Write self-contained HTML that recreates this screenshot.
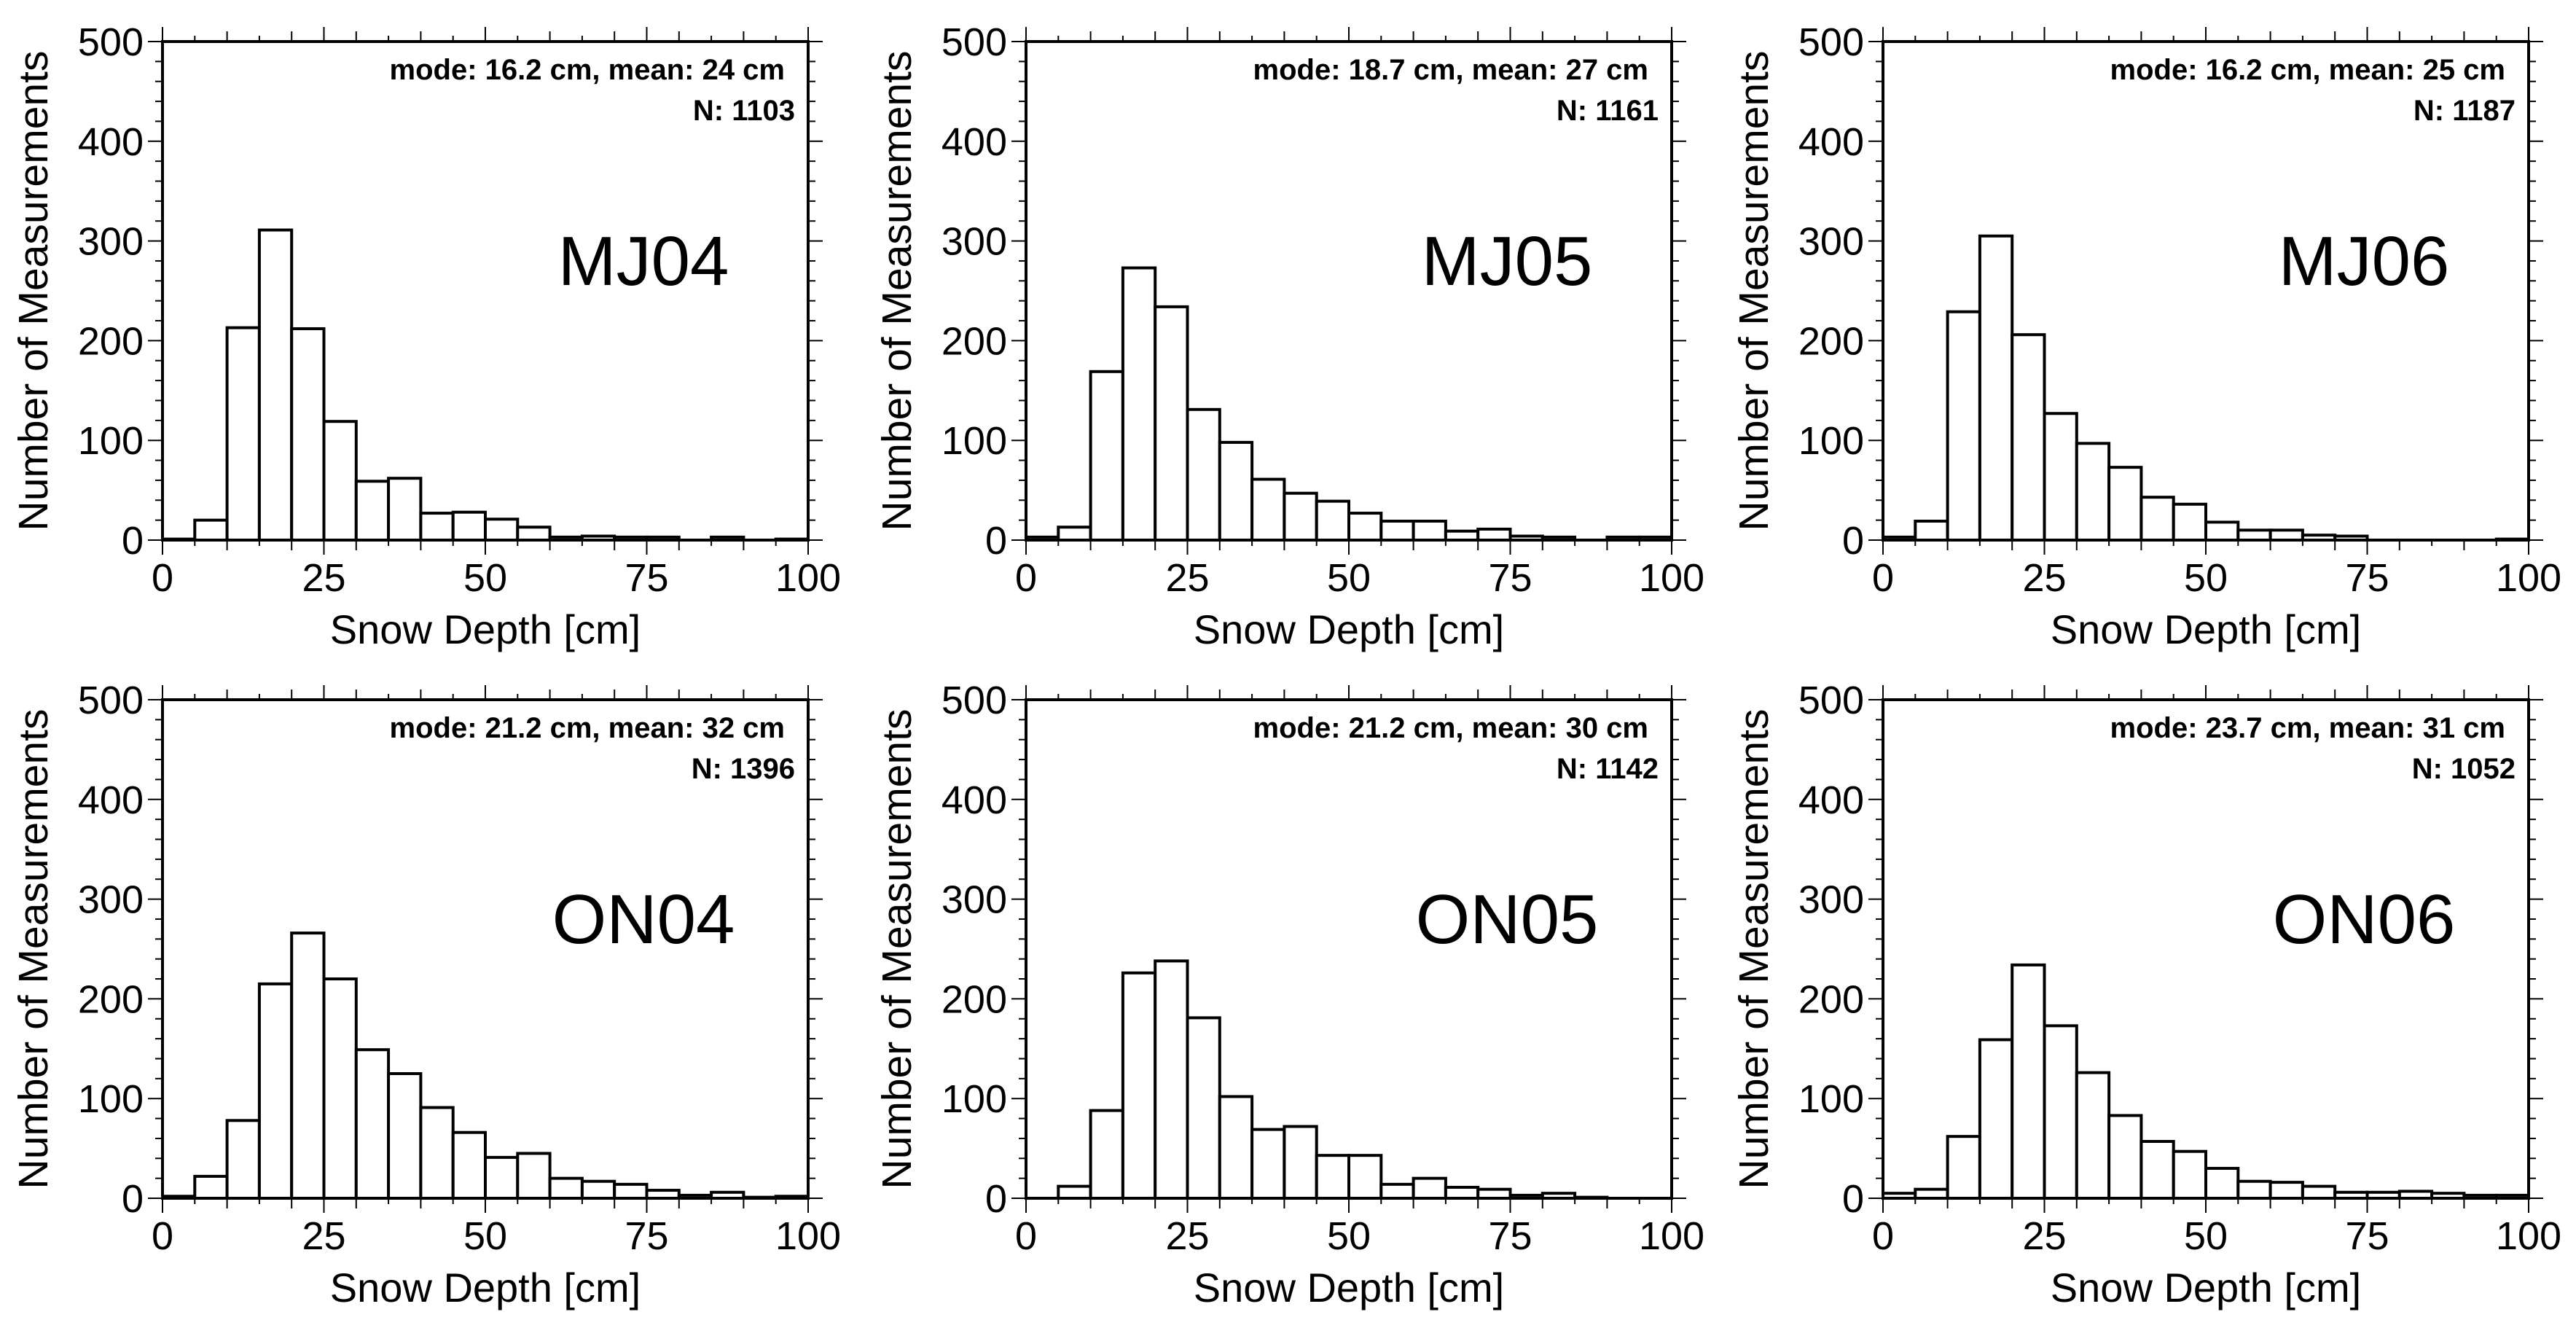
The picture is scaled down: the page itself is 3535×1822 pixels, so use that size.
<!DOCTYPE html>
<html><head><meta charset="utf-8"><style>
html,body{margin:0;padding:0;background:#fff;}
svg{display:block;font-family:"Liberation Sans",Arial,sans-serif;}
</style></head><body>
<svg id="fig" width="3535" height="1822" viewBox="0 0 3535 1822" xmlns="http://www.w3.org/2000/svg"></svg>
<script>
const binEdges = [0,5,10,15,20,25,30,35,40,45,50,55,60,65,70,75,80,85,90,95,100];
const xTicks = [0,25,50,75,100];
const yTicks = [0,100,200,300,400,500];
const panelNames = ["MJ04","MJ05","MJ06","ON04","ON05","ON06"];
const modes = ["16.2","18.7","16.2","21.2","21.2","23.7"];
const means = ["24","27","25","32","30","31"];
const counts = ["1103","1161","1187","1396","1142","1052"];
const countsMJ04 = [1,20,213,311,212,119,59,62,27,28,21,13,3,4,3,3,0,3,0,1];
const countsMJ05 = [3,13,169,273,234,131,98,61,47,39,27,19,19,9,11,4,3,0,3,3];
const countsMJ06 = [3,19,229,305,206,127,97,73,43,36,18,10,10,5,4,0,0,0,0,1];
const countsON04 = [2,22,78,215,266,220,149,125,91,66,41,45,20,17,14,8,3,6,1,2];
const countsON05 = [0,12,88,226,238,181,102,69,72,43,43,14,20,11,9,3,5,1,0,0];
const countsON06 = [5,9,62,159,234,173,126,83,57,47,30,17,16,12,6,6,7,5,3,3];
const series = [countsMJ04,countsMJ05,countsMJ06,countsON04,countsON05,countsON06];

const NS = "http://www.w3.org/2000/svg";
const svg = document.getElementById('fig');
const lefts = [223,1408,2584], tops = [57,960];
const PW = 886, PH = 684;
function mk(tag, attrs, parent){ const e=document.createElementNS(NS,tag); for(const k in attrs) e.setAttribute(k,attrs[k]); parent.appendChild(e); return e; }

series.forEach((vals, i) => {
  const L = lefts[i%3], T = tops[Math.floor(i/3)];
  const xs = v => L + v/100*PW;
  const ys = v => T + PH - v/500*PH;
  const g = mk('g', {}, svg);
  
  
  for (let b=0; b<vals.length; b++) {
    const x0 = xs(binEdges[b]), x1 = xs(binEdges[b+1]), y = ys(vals[b]);
    const r = mk('rect', {x:x0, y:y, width:x1-x0, height:ys(0)-y, fill:'#fff', stroke:'#000', 'stroke-width':4}, g);
    
    
  }
  const fr = mk('rect', {x:L, y:T, width:PW, height:PH, fill:'none', stroke:'#000', 'stroke-width':4}, g);
  
  
  for (let v=0; v<=500; v+=20) {
    const major = v%100===0, len = major?20:10, y = ys(v);
    mk('line', {x1:L-len, y1:y, x2:L, y2:y, stroke:'#000', 'stroke-width':2}, g);
    mk('line', {x1:L+PW, y1:y, x2:L+PW+len, y2:y, stroke:'#000', 'stroke-width':2}, g);
  }
  yTicks.forEach(v => {
    const t = mk('text', {x:L-26, y:ys(v)+19, 'font-size':54, 'text-anchor':'end'}, g);
    t.textContent = v;
    
    
  });
  for (let v=0; v<=100; v+=5) {
    const major = v%25===0, len = major?20:(v%10===0?14:8), x = xs(v);
    mk('line', {x1:x, y1:T+PH, x2:x, y2:T+PH+len, stroke:'#000', 'stroke-width':2}, g);
    mk('line', {x1:x, y1:T-len, x2:x, y2:T, stroke:'#000', 'stroke-width':2}, g);
  }
  xTicks.forEach(v => {
    const t = mk('text', {x:xs(v), y:T+PH+70, 'font-size':54, 'text-anchor':'middle'}, g);
    t.textContent = v;
    
    
  });
  const xt = mk('text', {x:L+PW/2, y:T+PH+142, 'font-size':56, 'text-anchor':'middle'}, g);
  xt.textContent = 'Snow Depth [cm]';
  
  
  const cy = T+PH/2;
  const yt = mk('text', {x:L-158, y:cy, 'font-size':57, 'text-anchor':'middle', transform:'rotate(-90 '+(L-158)+' '+cy+')'}, g);
  yt.textContent = 'Number of Measurements';
  
  
  const s1 = mk('text', {x:L+PW-32, y:T+52, 'font-size':40, 'font-weight':'bold', 'text-anchor':'end'}, g);
  s1.textContent = 'mode: ' + modes[i] + ' cm, mean: ' + means[i] + ' cm';
  
  
  const s2 = mk('text', {x:L+PW-18, y:T+108, 'font-size':40, 'font-weight':'bold', 'text-anchor':'end'}, g);
  s2.textContent = 'N: ' + counts[i];
  
  
  const lb = mk('text', {x:L+660, y:T+334, 'font-size':96, 'text-anchor':'middle'}, g);
  lb.textContent = panelNames[i];
  
  
});
</script>
</body></html>
